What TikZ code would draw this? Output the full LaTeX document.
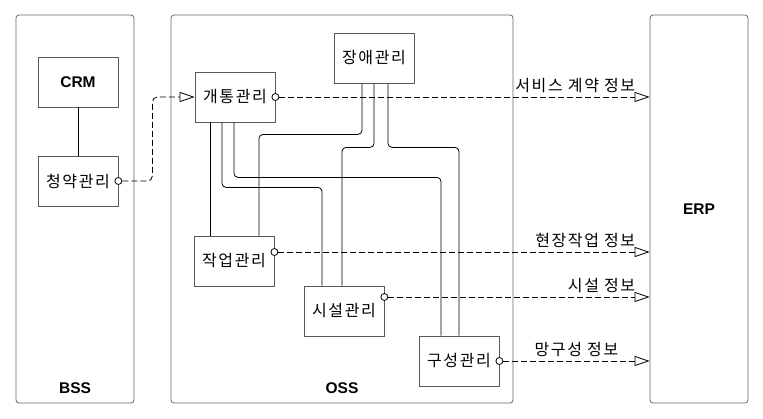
\documentclass[tikz,border=0pt]{standalone}
\usepackage{fontspec}
\setmainfont{Liberation Sans}
\newfontfamily\kr[LetterSpace=10]{Noto Sans CJK KR}
\usetikzlibrary{arrows.meta,positioning}

\begin{document}
\begin{tikzpicture}[%
        x=1pt, y=-1pt,
        >={Triangle[open,length=15pt,width=10pt]},
        line width=0.8pt,
        group/.style={draw=black!60, rounded corners=3pt, minimum width=#1, minimum height=388pt},
        box/.style={draw=black!65, minimum width=80pt, minimum height=50pt, font=\kr\fontsize{16}{19}\selectfont},
        title/.style={font=\bfseries\fontsize{15.5}{18}\selectfont},
        port/.style={draw, circle, fill=white, inner sep=0pt, minimum size=7pt},
        wire/.style={rounded corners=4pt},
        flow/.style={dash pattern=on 6pt off 3pt, ->},
        info/.style={font=\kr\fontsize{16}{19}\selectfont, inner sep=1pt, yshift=3pt}
        ]

        \useasboundingbox (0,0) rectangle (763,418);

        \node[group=118pt] (bss) at (75,209) {};
        \node[group=342pt] (oss) at (342,209) {};
        \node[group=98pt, title] (erp) at (699,209) {ERP};
        \node[title, above=6pt] at (bss.south) {BSS};
        \node[title, above=6pt] at (oss.south) {OSS};

        \node[box, title] (crm) at (78,82) {CRM};
        \node[box] (req) at (78,181) {청약관리};
        \node[box] (open) at (235,97) {개통관리};
        \node[box] (fault) at (374,58) {장애관리};
        \node[box] (work) at (234,261) {작업관리};
        \node[box] (fac) at (344,311) {시설관리};
        \node[box] (conf) at (459,361) {구성관리};

        \node[port] (reqp) at (req.east) {};
        \node[port] (openp) at (open.east) {};
        \node[port] (workp) at ([yshift=9pt]work.east) {};
        \node[port] (facp) at ([yshift=14pt]fac.east) {};
        \node[port] (confp) at (conf.east) {};

        \draw (crm) -- (req);
        \draw[flow, rounded corners=5pt] (reqp) -- ++(34,0) |- (open);

        \draw[flow] (openp) -- (openp -| erp.west) node[info, above left, xshift=-13pt] {서비스 계약 정보};
        \draw[flow] (workp) -- (workp -| erp.west) node[info, above left, xshift=-13pt] {현장작업 정보};
        \draw[flow] (facp) -- (facp -| erp.west) node[info, above left, xshift=-13pt] {시설 정보};
        \draw[flow] (confp) -- (confp -| erp.west) node[info, midway, above] {망구성 정보};

        \draw[wire] ([xshift=-25pt]open.south) -- ([xshift=-24pt]work.north);
        \draw[wire] ([xshift=-13pt]open.south) -- ++(0,65) -| ([xshift=-22pt]fac.north);
        \draw[wire] ([xshift=-1pt]open.south) -- ++(0,55) -| ([xshift=-18pt]conf.north);
        \draw[wire] ([xshift=-12pt]fault.south) -- ++(0,51) -| ([xshift=25pt]work.north);
        \draw[wire] (fault.south) -- ++(0,64) -| ([xshift=-2pt]fac.north);
        \draw[wire] ([xshift=14pt]fault.south) -- ++(0,64) -| (conf.north);

        \end{tikzpicture}
\end{document}
